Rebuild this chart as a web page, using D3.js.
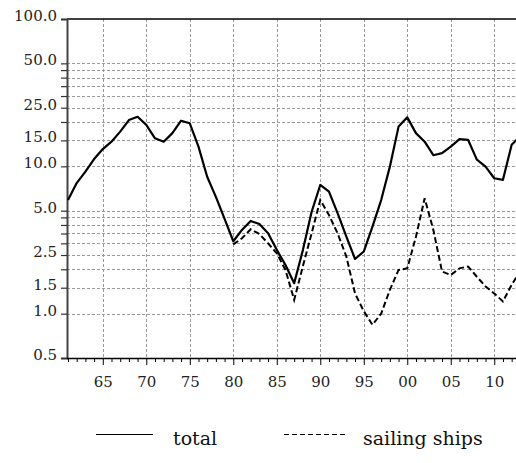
<!DOCTYPE html>
<html>
<head>
<meta charset="utf-8">
<script src="https://cdn.jsdelivr.net/npm/d3@7"></script>
<style>
  body { margin: 0; background: #fff; }
  svg { display: block; }
</style>
</head>
<body>
<svg id="chart" width="516" height="463"></svg>
<script>
const years = d3.range(1961, 2014);

const total = [
  5.9, 7.7, 9.2, 11.2, 13.1, 14.7, 17.2, 20.6, 21.7, 19.1,
  15.5, 14.7, 16.8, 20.4, 19.6, 13.6, 8.5, 6.2, 4.4, 3.1,
  3.7, 4.26, 4.06, 3.51, 2.71, 2.14, 1.61, 2.7, 4.9, 7.47,
  6.73, 4.8, 3.33, 2.35, 2.64, 3.89, 5.9, 9.95, 18.6, 21.5,
  16.8, 14.7, 11.9, 12.3, 13.6, 15.3, 15.1, 11.1, 9.95, 8.3,
  8.1, 14.0, 16.0
];

const sailYears = d3.range(1980, 2014);
const sailing = [
  2.95, 3.25, 3.74, 3.47, 3.0, 2.57, 1.98, 1.24, 2.1, 3.5,
  5.9, 4.67, 3.5, 2.44, 1.37, 1.04, 0.84, 1.0, 1.45, 1.98,
  2.03, 3.33, 6.07, 3.7, 1.93, 1.83, 2.03, 2.09, 1.78, 1.53,
  1.37, 1.21, 1.57, 1.95
];

const gridValues = [1, 1.5, 2, 2.5, 3, 3.5, 4, 4.5, 5, 10, 15, 20, 25, 30, 35, 40, 45, 50];
const yTickValues = [0.5, 1, 1.5, 2, 2.5, 3, 3.5, 4, 4.5, 5, 10, 15, 20, 25, 30, 35, 40, 45, 50, 100];
const yLabelled = [0.5, 1, 1.5, 2.5, 5, 10, 15, 25, 50, 100];
const xMajor = [1965, 1970, 1975, 1980, 1985, 1990, 1995, 2000, 2005, 2010];

const svg = d3.select('#chart');
const plotLeft = 67, plotTop = 19, plotBottom = 358, plotRight = 516;

const x = d3.scaleLinear().domain([1961, 2012.5]).range([68, plotRight]);
const y = d3.scaleLog().domain([0.5, 100]).range([plotBottom, plotTop]);

svg.append('defs').append('clipPath').attr('id', 'plot')
  .append('rect')
  .attr('x', plotLeft).attr('y', plotTop)
  .attr('width', plotRight - plotLeft).attr('height', plotBottom - plotTop);

// grid
const grid = svg.append('g')
  .attr('stroke', '#9a9a9a')
  .attr('stroke-width', 1)
  .attr('stroke-dasharray', '3,2');

grid.selectAll('line.h')
  .data(gridValues)
  .enter().append('line')
  .attr('x1', plotLeft).attr('x2', plotRight)
  .attr('y1', d => Math.round(y(d)) + 0.5)
  .attr('y2', d => Math.round(y(d)) + 0.5);

grid.selectAll('line.v')
  .data(xMajor)
  .enter().append('line')
  .attr('x1', d => Math.round(x(d)) + 0.5)
  .attr('x2', d => Math.round(x(d)) + 0.5)
  .attr('y1', plotTop).attr('y2', plotBottom);

// top frame
svg.append('line')
  .attr('x1', plotLeft).attr('x2', plotRight)
  .attr('y1', plotTop).attr('y2', plotTop)
  .attr('stroke', '#000').attr('stroke-width', 1.5);

// y axis
const yAxis = svg.append('g')
  .attr('transform', `translate(${plotLeft},0)`)
  .call(d3.axisLeft(y)
    .tickValues(yTickValues)
    .tickSize(6)
    .tickPadding(4)
    .tickFormat(d => yLabelled.includes(d) ? d3.format('.1f')(d) : ''));

yAxis.select('.domain').attr('stroke', '#444').attr('stroke-width', 2);
yAxis.selectAll('.tick line').attr('stroke', '#333').attr('stroke-width', 1.2);
yAxis.selectAll('.tick text')
  .attr('font-family', 'DejaVu Serif')
  .attr('font-size', 15)
  .attr('fill', '#222')
  .attr('dy', '0.1em');
yAxis.attr('font-family', null).attr('font-size', null);

// x axis
const xAxis = svg.append('g')
  .attr('transform', `translate(0,${plotBottom})`)
  .call(d3.axisBottom(x)
    .tickValues(years.filter(d => d <= 2012))
    .tickSize(4)
    .tickPadding(14)
    .tickFormat(d => xMajor.includes(d) ? String(d % 100).padStart(2, '0') : ''));

xAxis.select('.domain').attr('stroke', '#000').attr('stroke-width', 1.5)
  .attr('d', `M${plotLeft},0.5H${plotRight}`);
xAxis.selectAll('.tick line')
  .attr('stroke', '#000')
  .attr('y2', d => xMajor.includes(d) ? 7 : 4);
xAxis.selectAll('.tick text')
  .attr('font-family', 'DejaVu Serif')
  .attr('font-size', 15)
  .attr('fill', '#222');
xAxis.attr('font-family', null).attr('font-size', null);

// series
const lineTotal = d3.line()
  .x((d, i) => x(years[i]))
  .y(d => y(d));

const lineSail = d3.line()
  .x((d, i) => x(sailYears[i]))
  .y(d => y(d));

const plot = svg.append('g').attr('clip-path', 'url(#plot)');

plot.append('path')
  .datum(sailing)
  .attr('d', lineSail)
  .attr('fill', 'none')
  .attr('stroke', '#000')
  .attr('stroke-width', 2)
  .attr('stroke-dasharray', '6,3');

plot.append('path')
  .datum(total)
  .attr('d', lineTotal)
  .attr('fill', 'none')
  .attr('stroke', '#000')
  .attr('stroke-width', 2.2)
  .attr('stroke-linejoin', 'round');

// legend
const legend = svg.append('g');
legend.append('line')
  .attr('x1', 96).attr('x2', 153)
  .attr('y1', 434.5).attr('y2', 434.5)
  .attr('stroke', '#000').attr('stroke-width', 1.2);
legend.append('text')
  .attr('x', 173).attr('y', 445)
  .attr('font-family', 'DejaVu Serif')
  .attr('font-size', 19)
  .attr('fill', '#111')
  .text('total');
legend.append('line')
  .attr('x1', 284).attr('x2', 346)
  .attr('y1', 434.5).attr('y2', 434.5)
  .attr('stroke', '#000').attr('stroke-width', 1.2)
  .attr('stroke-dasharray', '5,3');
legend.append('text')
  .attr('x', 363).attr('y', 445)
  .attr('font-family', 'DejaVu Serif')
  .attr('font-size', 19)
  .attr('fill', '#111')
  .text('sailing ships');
</script>
</body>
</html>
